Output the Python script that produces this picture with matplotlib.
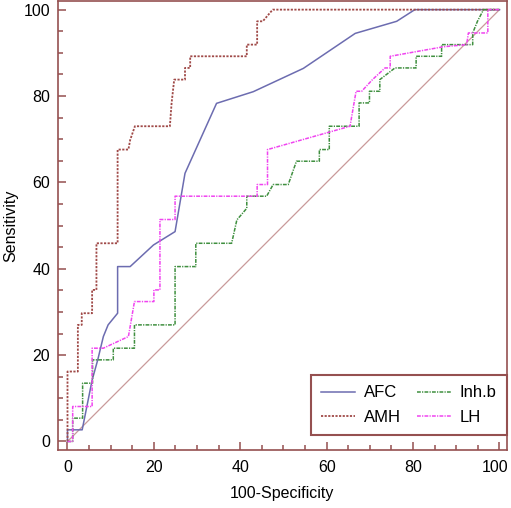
import matplotlib
matplotlib.use('Agg')
import matplotlib.pyplot as plt
import matplotlib.transforms as mtransforms
from matplotlib.ticker import MultipleLocator

# ROC curves (100-Specificity, Sensitivity)
afc_x = [0, 0, 3.4, 5.7, 7.0, 8.3, 9.4, 11.6, 11.6, 14.5, 19.9, 24.9, 27.2, 34.5, 43.0, 54.6, 66.6, 76.2, 80.4, 100]
afc_y = [0, 2.7, 2.7, 14.2, 18.9, 24.3, 27.0, 29.7, 40.5, 40.5, 45.5, 48.6, 62.1, 78.3, 81.0, 86.4, 94.5, 97.3, 100, 100]

amh_x = [0, 0, 2.4, 2.4, 3.3, 3.3, 5.7, 5.7, 6.7, 6.7, 11.6, 11.6, 14.1, 14.5, 15.6, 23.7, 24.1, 24.7,
         27.2, 27.2, 28.4, 28.4, 41.5, 41.5, 43.9, 43.9, 45.2, 47.5, 100]
amh_y = [0, 16.2, 16.2, 27.0, 27.0, 29.7, 29.7, 35.1, 35.1, 45.9, 45.9, 67.6, 67.6, 69.8, 73.0, 73.0, 78.4, 83.8,
         83.8, 86.5, 86.5, 89.2, 89.2, 91.9, 91.9, 97.3, 97.3, 100, 100]

inhb_x = [0, 1.2, 1.2, 3.5, 3.5, 5.8, 5.8, 10.6, 10.6, 15.5, 15.5, 24.9, 24.9, 29.7, 29.7, 38.0, 39.2, 41.5,
          41.5, 46.1, 47.6, 51.1, 53.0, 58.3, 58.3, 60.6, 60.6, 67.5, 67.5, 69.9, 69.9, 72.3, 72.3, 75.8,
          80.7, 80.7, 86.6, 86.6, 93.8, 93.8, 94.9, 96.3, 100]
inhb_y = [0, 0, 5.4, 5.4, 13.5, 13.5, 18.9, 18.9, 21.6, 21.6, 27.0, 27.0, 40.5, 40.5, 45.9, 45.9, 51.3, 54.0,
          56.8, 56.8, 59.5, 59.5, 64.9, 64.9, 67.6, 67.6, 73.0, 73.0, 78.4, 78.4, 81.1, 81.1, 83.8, 86.5,
          86.5, 89.2, 89.2, 91.9, 91.9, 94.6, 97.3, 100, 100]

lh_x = [0, 1.2, 1.2, 5.7, 5.7, 8.3, 14.1, 15.5, 20.0, 20.0, 21.4, 21.4, 24.9, 24.9, 43.9, 43.9, 46.3, 46.3,
        65.4, 66.8, 68.1, 70.6, 73.5, 74.7, 74.7, 87.0, 92.4, 92.8, 97.3, 97.3, 100]
lh_y = [0, 0, 8.1, 8.1, 21.6, 21.6, 24.3, 32.4, 32.4, 35.1, 35.1, 51.4, 51.4, 56.8, 56.8, 59.5, 59.5, 67.6,
        73.0, 81.1, 81.1, 83.8, 86.5, 86.5, 89.2, 91.4, 91.9, 94.6, 94.6, 100, 100]

ref_x = [0, 100]
ref_y = [0, 100]

frame_col = '#955050'

plt.rcParams['font.family'] = ['Liberation Sans', 'DejaVu Sans']
fig = plt.figure(figsize=(5.11, 5.08), dpi=100)
ax = fig.add_axes([0.1129, 0.1142, 0.8787, 0.8845])

ax.plot(ref_x, ref_y, color='#c99a9a', lw=0.9)
ax.plot(afc_x, afc_y, color='#6c6cb0', lw=1.1, label='AFC')
ax.plot(amh_x, amh_y, color='#a04a48', lw=1.3, ls=(0, (1.2, 0.8)), label='AMH')
ax.plot(inhb_x, inhb_y, color='#3f8f3f', lw=1.1, ls=(0, (2.5, 0.8, 0.8, 0.8)), label='Inh.b')
ax.plot(lh_x, lh_y, color='#f044f0', lw=1.1, ls=(0, (2.5, 0.8, 0.8, 0.8)), label='LH')

ax.set_xlim(-2.27, 101.67)
ax.set_ylim(-1.97, 102.08)
ax.xaxis.set_major_locator(MultipleLocator(20))
ax.xaxis.set_minor_locator(MultipleLocator(5))
ax.yaxis.set_major_locator(MultipleLocator(20))
ax.yaxis.set_minor_locator(MultipleLocator(5))

for s in ax.spines.values():
    s.set_color(frame_col)
    s.set_linewidth(1.2)
ax.tick_params(which='both', direction='in', color=frame_col, width=1.1, labelsize=11.5,
               top=False, right=False)
ax.tick_params(which='major', length=6)
ax.tick_params(which='minor', length=3.5)
ax.tick_params(axis='y', which='major', pad=5.5)
ax.tick_params(axis='x', which='major', pad=7)

ax.set_xlabel('100-Specificity', fontsize=11.5, labelpad=8)
ax.set_ylabel('Sensitivity', fontsize=11.5, labelpad=4)

# nudge the last x tick label ("100") so it stays inside the figure
fig.canvas.draw()
last = [t for t in ax.get_xticklabels() if t.get_text() == '100']
if last:
    off = mtransforms.ScaledTranslation(-3 / 72, 0, fig.dpi_scale_trans)
    last[0].set_transform(last[0].get_transform() + off)

leg = ax.legend(ncol=2, loc='lower right', bbox_to_anchor=(1.0, 0.033), fontsize=12,
                fancybox=False, framealpha=1, edgecolor=frame_col, handlelength=2.05,
                handletextpad=0.5, columnspacing=1.0, labelspacing=0.58, borderpad=0.6,
                borderaxespad=0)
leg.get_frame().set_linewidth(1.5)

fig.savefig('out.png', dpi=100)
